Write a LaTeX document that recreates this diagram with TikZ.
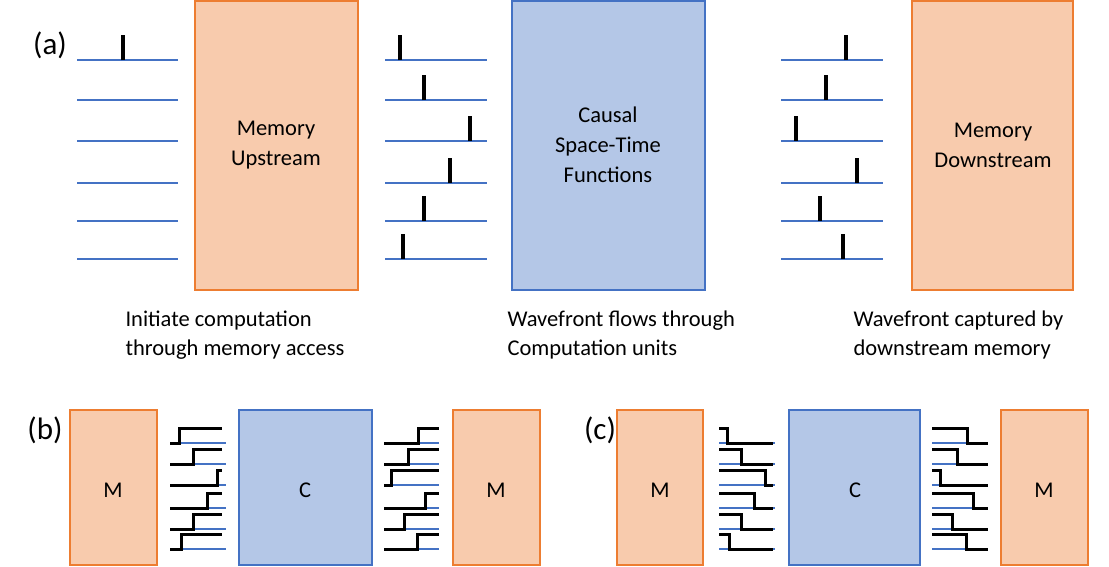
\documentclass[tikz,border=0pt]{standalone}
\usepackage{fontspec}
\setmainfont{Carlito}
\definecolor{mfill}{HTML}{F8CBAD}\definecolor{mdraw}{HTML}{ED7D31}
\definecolor{cfill}{HTML}{B4C7E7}\definecolor{cdraw}{HTML}{4472C4}
\begin{document}
\begin{tikzpicture}[x=1pt,y=-1pt,
  mem/.style={draw=mdraw,fill=mfill,line width=1.5pt},
  comp/.style={draw=cdraw,fill=cfill,line width=1.5pt},
  wire/.style={draw=cdraw,line width=2pt},
  pulse/.style={draw=black,line width=4pt},
  sig/.style={draw=black,line width=3pt},
  thinwire/.style={draw=cdraw,line width=1.5pt},
  lab/.style={font=\fontsize{22.5}{30}\selectfont,align=center},
  plab/.style={font=\fontsize{22.5}{29}\selectfont,align=left,anchor=north west},
  tag/.style={font=\fontsize{31}{32}\selectfont}]
\useasboundingbox (0,0) rectangle (1109,566);
% (a)
\node[tag] (ta) at (50,45) {(a)};
\draw[mem] (195,1) rectangle (358,290); \node[lab] (mu) at (276,145) {Memory\\Upstream};
\draw[comp] (512,1) rectangle (705,290); \node[lab] (cs) at (608,145) {Causal\\Space-Time\\Functions};
\draw[mem] (912,1) rectangle (1073,290); \node[lab] (md) at (993,145) {Memory\\Downstream};
\foreach \y/\a/\b/\c [count=\i] in {60/123/400/846,100/-1/424/826,141/-1/470/796,183/-1/450/857,221/-1/424/820,259/-1/403/843}{
  \draw[wire] (77,\y) -- (178,\y);
  \draw[wire] (385,\y) -- (487,\y);
  \draw[wire] (781,\y) -- (883,\y);
  \ifnum\a>0 \draw[pulse] (\a,\y) -- (\a,\y-25);\fi
  \draw[pulse] (\b,\y) -- (\b,\y-25);
  \draw[pulse] (\c,\y) -- (\c,\y-25);
}
\node[plab] (t1) at (122,307) {Initiate computation\\through memory access};
\node[plab] (t2) at (504,307) {Wavefront flows through\\Computation units};
\node[plab] (t3) at (850,307) {Wavefront captured by\\downstream memory};
% (b)
\node[tag] (tb) at (45,430) {(b)};
\draw[mem] (70,410) rectangle (157,565); \node[lab] (bm1) at (113,490) {M};
\draw[comp] (239,410) rectangle (372,565); \node[lab] (bc) at (305,490) {C};
\draw[mem] (453,410) rectangle (540,565); \node[lab] (bm2) at (496,490) {M};
\foreach \y/\s/\t in {443/179/418,464/193/408,485/217/391,508/207/425,529/193/404,549/181/417}{
  \draw[thinwire] (170,\y) -- (226,\y);
  \draw[sig] (170,\y) -- (\s,\y) -- (\s,\y-15) -- (222,\y-15);
  \draw[thinwire] (384,\y) -- (439,\y);
  \draw[sig] (384,\y) -- (\t,\y) -- (\t,\y-15) -- (439,\y-15);
}
% (c)
\node[tag] (tc) at (600,430) {(c)};
\draw[mem] (617,410) rectangle (703,565); \node[lab] (cm1) at (660,490) {M};
\draw[comp] (789,410) rectangle (920,565); \node[lab] (cc) at (855,490) {C};
\draw[mem] (1001,410) rectangle (1088,565); \node[lab] (cm2) at (1044,490) {M};
\foreach \y/\s/\t in {443/727/967,464/741/957,485/765/940,508/754/973,529/741/952,549/729/966}{
  \draw[thinwire] (719,\y) -- (775,\y);
  \draw[sig] (719,\y-15) -- (\s,\y-15) -- (\s,\y) -- (773,\y);
  \draw[thinwire] (932,\y) -- (988,\y);
  \draw[sig] (932,\y-15) -- (\t,\y-15) -- (\t,\y) -- (988,\y);
}
\end{tikzpicture}
\end{document}
